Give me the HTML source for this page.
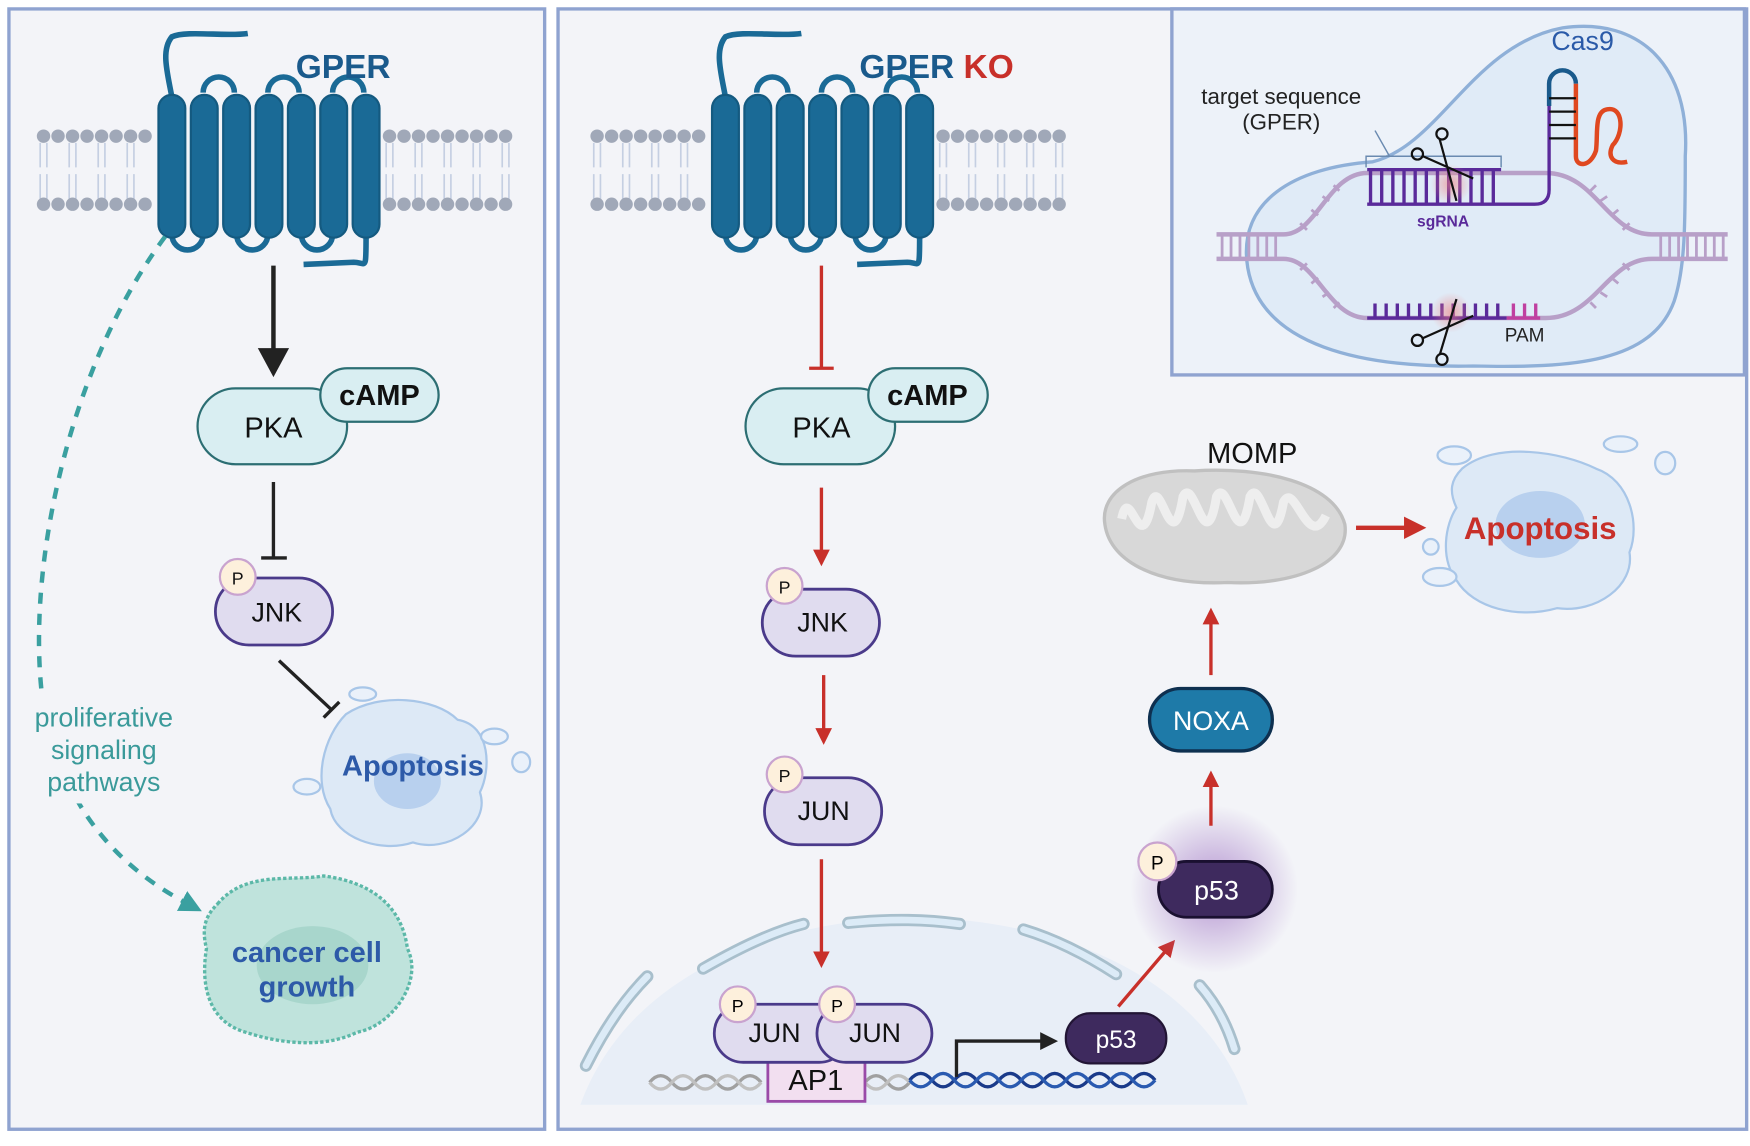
<!DOCTYPE html>
<html><head><meta charset="utf-8"><style>
html,body{margin:0;padding:0;background:#fff;}
svg{display:block;}
text{font-family:"Liberation Sans",sans-serif;}
</style></head><body>
<svg width="1750" height="1146" viewBox="0 0 1568 1027" preserveAspectRatio="none" xmlns="http://www.w3.org/2000/svg">
<defs>
<marker id="ar" viewBox="0 0 10 10" refX="5" refY="5" markerWidth="5" markerHeight="5" orient="auto"><path d="M0,0L10,5L0,10z" fill="#c8302a"/></marker>
<marker id="at" viewBox="0 0 10 10" refX="5" refY="5" markerWidth="5" markerHeight="5" orient="auto"><path d="M0,0L10,5L0,10z" fill="#3aa0a0"/></marker>
<radialGradient id="glow"><stop offset="0" stop-color="#9a6cc0" stop-opacity="0.7"/><stop offset="1" stop-color="#9a6cc0" stop-opacity="0"/></radialGradient>
<radialGradient id="pink"><stop offset="0" stop-color="#f08080" stop-opacity="0.6"/><stop offset="1" stop-color="#f08080" stop-opacity="0"/></radialGradient>
<g id="rec" fill="#1a6a96" stroke="#145a80" stroke-width="2">
 <path d="M12,2 C8,-20 2,-40 12,-52 C25,-58 60,-52 80,-55" fill="none" stroke="#1a6a96" stroke-width="5"/>
 <path d="M40,-2 a14,14 0 0 1 28,0 M98,-2 a14,14 0 0 1 28,0 M156,-2 a14,14 0 0 1 28,0" fill="none" stroke="#1a6a96" stroke-width="5"/>
 <path d="M12,125 a14,14 0 0 0 28,0 M70,125 a14,14 0 0 0 28,0 M128,125 a14,14 0 0 0 28,0" fill="none" stroke="#1a6a96" stroke-width="5"/>
 <path d="M186,125 C186,160 186,150 175,150 L130,152" fill="none" stroke="#1a6a96" stroke-width="5"/>
 <rect x="0" y="0" width="24" height="128" rx="12"/>
 <rect x="29" y="0" width="24" height="128" rx="12"/>
 <rect x="58" y="0" width="24" height="128" rx="12"/>
 <rect x="87" y="0" width="24" height="128" rx="12"/>
 <rect x="116" y="0" width="24" height="128" rx="12"/>
 <rect x="145" y="0" width="24" height="128" rx="12"/>
 <rect x="174" y="0" width="24" height="128" rx="12"/>
</g>
</defs>
<rect width="1568" height="1027" fill="#fff"/>
<rect x="8" y="8" width="480" height="1004" fill="#f3f4f8" stroke="#8fa3d0" stroke-width="3"/>
<rect x="500" y="8" width="1065" height="1004" fill="#f3f4f8" stroke="#8fa3d0" stroke-width="3"/>

<g id="m1">
<g stroke="#c5cfe2" stroke-width="1.5">
<path d="M36,128v22M42,128v22M36,156v22M42,156v22M62,128v22M68,128v22M62,156v22M68,156v22M88,128v22M94,128v22M88,156v22M94,156v22M114,128v22M120,128v22M114,156v22M120,156v22M346,128v22M352,128v22M346,156v22M352,156v22M372,128v22M378,128v22M372,156v22M378,156v22M398,128v22M404,128v22M398,156v22M404,156v22M424,128v22M430,128v22M424,156v22M430,156v22M450,128v22M456,128v22M450,156v22M456,156v22"/>
</g>
<g fill="#a0a8b8">
<circle cx="39" cy="122" r="6"/><circle cx="52" cy="122" r="6"/><circle cx="65" cy="122" r="6"/><circle cx="78" cy="122" r="6"/><circle cx="91" cy="122" r="6"/><circle cx="104" cy="122" r="6"/><circle cx="117" cy="122" r="6"/><circle cx="130" cy="122" r="6"/>
<circle cx="349" cy="122" r="6"/><circle cx="362" cy="122" r="6"/><circle cx="375" cy="122" r="6"/><circle cx="388" cy="122" r="6"/><circle cx="401" cy="122" r="6"/><circle cx="414" cy="122" r="6"/><circle cx="427" cy="122" r="6"/><circle cx="440" cy="122" r="6"/><circle cx="453" cy="122" r="6"/>
<circle cx="39" cy="183" r="6"/><circle cx="52" cy="183" r="6"/><circle cx="65" cy="183" r="6"/><circle cx="78" cy="183" r="6"/><circle cx="91" cy="183" r="6"/><circle cx="104" cy="183" r="6"/><circle cx="117" cy="183" r="6"/><circle cx="130" cy="183" r="6"/>
<circle cx="349" cy="183" r="6"/><circle cx="362" cy="183" r="6"/><circle cx="375" cy="183" r="6"/><circle cx="388" cy="183" r="6"/><circle cx="401" cy="183" r="6"/><circle cx="414" cy="183" r="6"/><circle cx="427" cy="183" r="6"/><circle cx="440" cy="183" r="6"/><circle cx="453" cy="183" r="6"/>
</g>
</g>
<use href="#m1" transform="translate(496,0)"/>
<use href="#rec" transform="translate(142,85)"/>
<use href="#rec" transform="translate(638,85)"/>
<text x="265" y="70" font-size="30" font-weight="bold" fill="#1a5a8c">GPER</text>
<text x="770" y="70" font-size="30" font-weight="bold" fill="#1a5a8c">GPER <tspan fill="#c8302a">KO</tspan></text>

<line x1="245" y1="238" x2="245" y2="318" stroke="#222" stroke-width="4"/>
<path d="M231,312 L259,312 L245,338z" fill="#222"/>
<rect x="177" y="348" width="134" height="68" rx="34" fill="#d9eef2" stroke="#2c6e73" stroke-width="2"/>
<text x="245" y="392" font-size="26" text-anchor="middle" fill="#111">PKA</text>
<rect x="287" y="330" width="106" height="48" rx="24" fill="#d9eef2" stroke="#2c6e73" stroke-width="2"/>
<text x="340" y="363" font-size="26" font-weight="bold" text-anchor="middle" fill="#111">cAMP</text>
<path d="M245,432 V500 M234,500 H257" stroke="#222" stroke-width="3"/>
<rect x="193" y="518" width="105" height="60" rx="30" fill="#e0dcef" stroke="#4a3a8a" stroke-width="2.5"/>
<text x="248" y="557" font-size="24" text-anchor="middle" fill="#111">JNK</text>
<circle cx="213" cy="517" r="16" fill="#fdf0dc" stroke="#c9a3cf" stroke-width="2"/>
<text x="213" y="524" font-size="16" text-anchor="middle" fill="#111">P</text>
<path d="M250,592 L297,636 M290,643 L304,629" stroke="#222" stroke-width="3"/>

<path d="M310,640 C340,620 390,625 410,645 C440,650 440,690 430,710 C440,740 400,765 370,755 C340,765 300,750 296,725 C280,700 290,660 310,640z" fill="#dde9f6" stroke="#a8c6e8" stroke-width="2"/>
<ellipse cx="365" cy="700" rx="30" ry="25" fill="#b8d0ee"/>
<ellipse cx="325" cy="622" rx="12" ry="6" fill="#eaf1fa" stroke="#a8c6e8" stroke-width="2"/>
<ellipse cx="443" cy="660" rx="12" ry="7" fill="#eaf1fa" stroke="#a8c6e8" stroke-width="2"/>
<ellipse cx="467" cy="683" rx="8" ry="9" fill="#eaf1fa" stroke="#a8c6e8" stroke-width="2"/>
<ellipse cx="275" cy="705" rx="12" ry="7" fill="#eaf1fa" stroke="#a8c6e8" stroke-width="2"/>
<text x="370" y="695" font-size="26" font-weight="bold" text-anchor="middle" fill="#2d5aa8">Apoptosis</text>

<path d="M148,212 C60,330 20,520 40,640 C60,730 110,780 172,812" fill="none" stroke="#3aa0a0" stroke-width="4" stroke-dasharray="10,9" marker-end="url(#at)"/>
<rect x="15" y="625" width="160" height="95" fill="#f3f4f8"/>
<text x="93" y="651" font-size="24" text-anchor="middle" fill="#3a9a9a">proliferative</text>
<text x="93" y="680" font-size="24" text-anchor="middle" fill="#3a9a9a">signaling</text>
<text x="93" y="709" font-size="24" text-anchor="middle" fill="#3a9a9a">pathways</text>

<path d="M195,810 C220,780 260,790 290,785 C330,790 360,810 365,850 C380,880 350,920 320,925 C290,940 250,935 220,925 C185,915 180,880 185,850 C180,830 185,820 195,810z" fill="#bfe3dc" stroke="#5cb8a8" stroke-width="3" stroke-dasharray="3,2"/>
<ellipse cx="280" cy="865" rx="50" ry="35" fill="#a8d6cc"/>
<text x="275" y="862" font-size="26" font-weight="bold" text-anchor="middle" fill="#2d5aa8">cancer cell</text>
<text x="275" y="893" font-size="26" font-weight="bold" text-anchor="middle" fill="#2d5aa8">growth</text>

<!-- nucleus (drawn before arrows) -->
<path d="M520,990 C560,880 680,825 820,822 C960,825 1080,880 1118,990z" fill="#e8eef7"/>
<g fill="none" stroke="#a8bfcc" stroke-width="11" stroke-linecap="round"><path d="M525,955 C545,915 565,890 580,875"/><path d="M630,868 C670,845 700,833 720,828"/><path d="M760,827 C800,823 830,824 860,828"/><path d="M917,833 C950,843 980,860 1000,873"/><path d="M1075,883 C1090,900 1100,920 1106,940"/></g>
<g fill="none" stroke="#dcebf7" stroke-width="6" stroke-linecap="round"><path d="M525,955 C545,915 565,890 580,875"/><path d="M630,868 C670,845 700,833 720,828"/><path d="M760,827 C800,823 830,824 860,828"/><path d="M917,833 C950,843 980,860 1000,873"/><path d="M1075,883 C1090,900 1100,920 1106,940"/></g>

<path d="M736,238 V330 M725,330 H747" stroke="#c8302a" stroke-width="3"/>
<rect x="668" y="348" width="134" height="68" rx="34" fill="#d9eef2" stroke="#2c6e73" stroke-width="2"/>
<text x="736" y="392" font-size="26" text-anchor="middle" fill="#111">PKA</text>
<rect x="778" y="330" width="107" height="48" rx="24" fill="#d9eef2" stroke="#2c6e73" stroke-width="2"/>
<text x="831" y="363" font-size="26" font-weight="bold" text-anchor="middle" fill="#111">cAMP</text>
<line x1="736" y1="437" x2="736" y2="500" stroke="#c8302a" stroke-width="3" marker-end="url(#ar)"/>
<rect x="683" y="528" width="105" height="60" rx="30" fill="#e0dcef" stroke="#4a3a8a" stroke-width="2.5"/>
<text x="737" y="566" font-size="24" text-anchor="middle" fill="#111">JNK</text>
<circle cx="703" cy="525" r="16" fill="#fdf0dc" stroke="#c9a3cf" stroke-width="2"/>
<text x="703" y="532" font-size="16" text-anchor="middle" fill="#111">P</text>
<line x1="738" y1="605" x2="738" y2="660" stroke="#c8302a" stroke-width="3" marker-end="url(#ar)"/>
<rect x="685" y="697" width="105" height="60" rx="30" fill="#e0dcef" stroke="#4a3a8a" stroke-width="2.5"/>
<text x="738" y="735" font-size="24" text-anchor="middle" fill="#111">JUN</text>
<circle cx="703" cy="694" r="16" fill="#fdf0dc" stroke="#c9a3cf" stroke-width="2"/>
<text x="703" y="701" font-size="16" text-anchor="middle" fill="#111">P</text>
<line x1="736" y1="770" x2="736" y2="860" stroke="#c8302a" stroke-width="3" marker-end="url(#ar)"/>

<g fill="none" stroke-width="3">
<path d="M582,970 q10,-12 20,0 t20,0 t20,0 t20,0 t20,0 M775,970 q10,-12 20,0 t20,0" stroke="#a0a0a0"/>
<path d="M582,970 q10,12 20,0 t20,0 t20,0 t20,0 t20,0 M775,970 q10,12 20,0 t20,0" stroke="#c0c0c0"/>
<path d="M815,968 q10,-12 20,0 t20,0 t20,0 t20,0 t20,0 t20,0 t20,0 t20,0 t20,0 t20,0 t20,0" stroke="#1a3a8a"/>
<path d="M815,968 q10,12 20,0 t20,0 t20,0 t20,0 t20,0 t20,0 t20,0 t20,0 t20,0 t20,0 t20,0" stroke="#2a5ab0"/>
</g>
<rect x="688" y="945" width="87" height="42" fill="#f2dff0" stroke="#9a4aa8" stroke-width="2.5"/>
<text x="731" y="977" font-size="26" text-anchor="middle" fill="#111">AP1</text>
<rect x="640" y="900" width="120" height="52" rx="26" fill="#e0dcef" stroke="#4a3a8a" stroke-width="2.5"/>
<rect x="732" y="900" width="103" height="52" rx="26" fill="#e0dcef" stroke="#4a3a8a" stroke-width="2.5"/>
<text x="694" y="934" font-size="24" text-anchor="middle" fill="#111">JUN</text>
<text x="784" y="934" font-size="24" text-anchor="middle" fill="#111">JUN</text>
<circle cx="661" cy="900" r="16" fill="#fdf0dc" stroke="#c9a3cf" stroke-width="2"/><text x="661" y="907" font-size="16" text-anchor="middle">P</text>
<circle cx="750" cy="900" r="16" fill="#fdf0dc" stroke="#c9a3cf" stroke-width="2"/><text x="750" y="907" font-size="16" text-anchor="middle">P</text>
<path d="M857,965 V933 H935" fill="none" stroke="#222" stroke-width="3"/>
<path d="M932,925 L948,933 L932,941z" fill="#222"/>
<rect x="955" y="908" width="90" height="45" rx="22" fill="#3e2a5e" stroke="#221535" stroke-width="2"/>
<text x="1000" y="939" font-size="22" text-anchor="middle" fill="#fff">p53</text>
<line x1="1002" y1="902" x2="1048" y2="848" stroke="#c8302a" stroke-width="3" marker-end="url(#ar)"/>

<circle cx="1088" cy="797" r="75" fill="url(#glow)"/>
<rect x="1038" y="772" width="102" height="50" rx="25" fill="#3e2a5e" stroke="#1a1030" stroke-width="2.5"/>
<text x="1090" y="806" font-size="24" text-anchor="middle" fill="#fff">p53</text>
<circle cx="1037" cy="772" r="17" fill="#fdf0dc" stroke="#c9a3cf" stroke-width="2"/><text x="1037" y="779" font-size="17" text-anchor="middle">P</text>
<line x1="1085" y1="740" x2="1085" y2="698" stroke="#c8302a" stroke-width="3" marker-end="url(#ar)"/>
<rect x="1030" y="617" width="110" height="56" rx="28" fill="#1e7aa8" stroke="#0e3050" stroke-width="3"/>
<text x="1085" y="654" font-size="24" text-anchor="middle" fill="#fff">NOXA</text>
<line x1="1085" y1="605" x2="1085" y2="552" stroke="#c8302a" stroke-width="3" marker-end="url(#ar)"/>

<text x="1122" y="415" font-size="26" text-anchor="middle" fill="#111">MOMP</text>
<path d="M990,470 C985,440 1020,420 1070,422 C1130,418 1195,432 1205,470 C1210,505 1160,525 1100,522 C1040,525 995,505 990,470z" fill="#d8d8d8" stroke="#c0c0c0" stroke-width="3"/>
<path d="M1005,465 C1012,430 1022,505 1032,450 C1040,425 1050,505 1060,445 C1070,425 1080,505 1090,445 C1100,425 1110,505 1120,445 C1130,425 1140,505 1150,450 C1160,430 1172,495 1188,462" fill="none" stroke="#eeeeee" stroke-width="8"/>
<line x1="1215" y1="473" x2="1268" y2="473" stroke="#c8302a" stroke-width="4" marker-end="url(#ar)"/>

<path d="M1310,420 C1340,395 1400,405 1430,420 C1460,430 1470,470 1460,495 C1465,525 1430,550 1395,545 C1360,555 1320,545 1305,520 C1290,500 1295,470 1305,455 C1298,440 1300,430 1310,420z" fill="#dde9f6" stroke="#a8c6e8" stroke-width="2"/>
<ellipse cx="1380" cy="470" rx="40" ry="30" fill="#b8d0ee"/>
<ellipse cx="1303" cy="408" rx="15" ry="8" fill="#eaf1fa" stroke="#a8c6e8" stroke-width="2"/>
<ellipse cx="1452" cy="398" rx="15" ry="7" fill="#eaf1fa" stroke="#a8c6e8" stroke-width="2"/>
<ellipse cx="1492" cy="415" rx="9" ry="10" fill="#eaf1fa" stroke="#a8c6e8" stroke-width="2"/>
<ellipse cx="1282" cy="490" rx="7" ry="7" fill="#eaf1fa" stroke="#a8c6e8" stroke-width="2"/>
<ellipse cx="1290" cy="517" rx="15" ry="8" fill="#eaf1fa" stroke="#a8c6e8" stroke-width="2"/>
<text x="1380" y="483" font-size="28" font-weight="bold" text-anchor="middle" fill="#c8302a">Apoptosis</text>

<!-- inset -->
<rect x="1050" y="8" width="513" height="328" fill="#edf2f9" stroke="#8fa3d0" stroke-width="3"/>
<path d="M1230,145 C1290,130 1320,40 1400,25 C1470,15 1515,60 1510,140 C1510,200 1510,240 1500,270 C1480,325 1410,330 1320,328 C1220,330 1130,310 1118,240 C1108,180 1160,150 1230,145z" fill="#dce9f6" fill-opacity="0.8" stroke="#8fb0d8" stroke-width="3"/>
<g stroke="#b8a0c8" stroke-width="4" fill="none">
<path d="M1090,210 H1150 C1180,210 1190,155 1225,155 H1385 C1430,155 1440,210 1480,210 H1548"/>
<path d="M1090,232 H1150 C1180,232 1190,285 1225,285 H1385 C1430,285 1440,232 1480,232 H1548"/>
</g>
<g stroke="#b8a0c8" stroke-width="2.5">
<path d="M1095,210v22M1103,210v22M1111,210v22M1119,210v22M1127,210v22M1135,210v22M1143,210v22M1488,210v22M1496,210v22M1504,210v22M1512,210v22M1520,210v22M1528,210v22M1536,210v22M1544,210v22"/>
<path d="M1165,200l6,6M1175,188l6,5M1185,176l6,4M1195,166l5,5M1430,166l-5,5M1440,176l-6,4M1450,188l-6,5M1460,200l-6,6M1165,242l6,-6M1175,254l6,-5M1185,266l6,-4M1195,276l5,-5M1430,276l-5,-5M1440,266l-6,-4M1450,254l-6,-5M1460,242l-6,-6"/>
</g>
<g stroke="#5a2a9a" stroke-width="3" fill="none">
<path d="M1225,152 H1345 M1225,183 H1375 Q1388,183 1388,170 V95"/>
<path d="M1228,152v31M1238,152v31M1248,152v31M1258,152v31M1268,152v31M1278,152v31M1288,152v31M1298,152v31M1308,152v31M1318,152v31M1328,152v31M1338,152v31"/>
<path d="M1225,285 H1350 M1232,272v13M1242,272v13M1252,272v13M1262,272v13M1272,272v13M1282,272v13M1292,272v13M1302,272v13M1312,272v13M1322,272v13M1332,272v13M1342,272v13"/>
</g>
<path d="M1350,285 H1380 M1356,272v13M1366,272v13M1376,272v13" stroke="#c040a0" stroke-width="3"/>
<circle cx="1300" cy="165" r="18" fill="url(#pink)"/><circle cx="1300" cy="280" r="18" fill="url(#pink)"/>
<path d="M1388,95 V75 a12,12 0 0 1 24,0" fill="none" stroke="#1a5a8c" stroke-width="4"/>
<path d="M1412,75 V140 C1412,150 1425,150 1430,135 C1432,120 1428,100 1440,98 C1455,95 1455,120 1445,130 C1440,140 1445,148 1458,145" fill="none" stroke="#e04820" stroke-width="4"/>
<g stroke="#111" stroke-width="2"><path d="M1388,88h24M1388,100h24M1388,112h24M1388,124h24"/></g>
<path d="M1224,150 V140 H1345 V150 M1245,140 L1232,117" fill="none" stroke="#6a8ab0" stroke-width="1.3"/>
<text x="1148" y="93" font-size="20" text-anchor="middle" fill="#222">target sequence</text>
<text x="1148" y="116" font-size="20" text-anchor="middle" fill="#222">(GPER)</text>
<text x="1418" y="45" font-size="24" text-anchor="middle" fill="#2a5aa8">Cas9</text>
<text x="1293" y="203" font-size="14" font-weight="bold" text-anchor="middle" fill="#5a2a9a">sgRNA</text>
<text x="1366" y="306" font-size="17" text-anchor="middle" fill="#222">PAM</text>
<g stroke="#111" stroke-width="2" fill="none">
<path d="M1275,140 L1320,160 M1290,125 L1305,180"/><circle cx="1270" cy="138" r="5"/><circle cx="1292" cy="120" r="5"/>
<path d="M1275,303 L1320,283 M1290,318 L1305,268"/><circle cx="1270" cy="305" r="5"/><circle cx="1292" cy="322" r="5"/>
</g>
</svg>
</body></html>
